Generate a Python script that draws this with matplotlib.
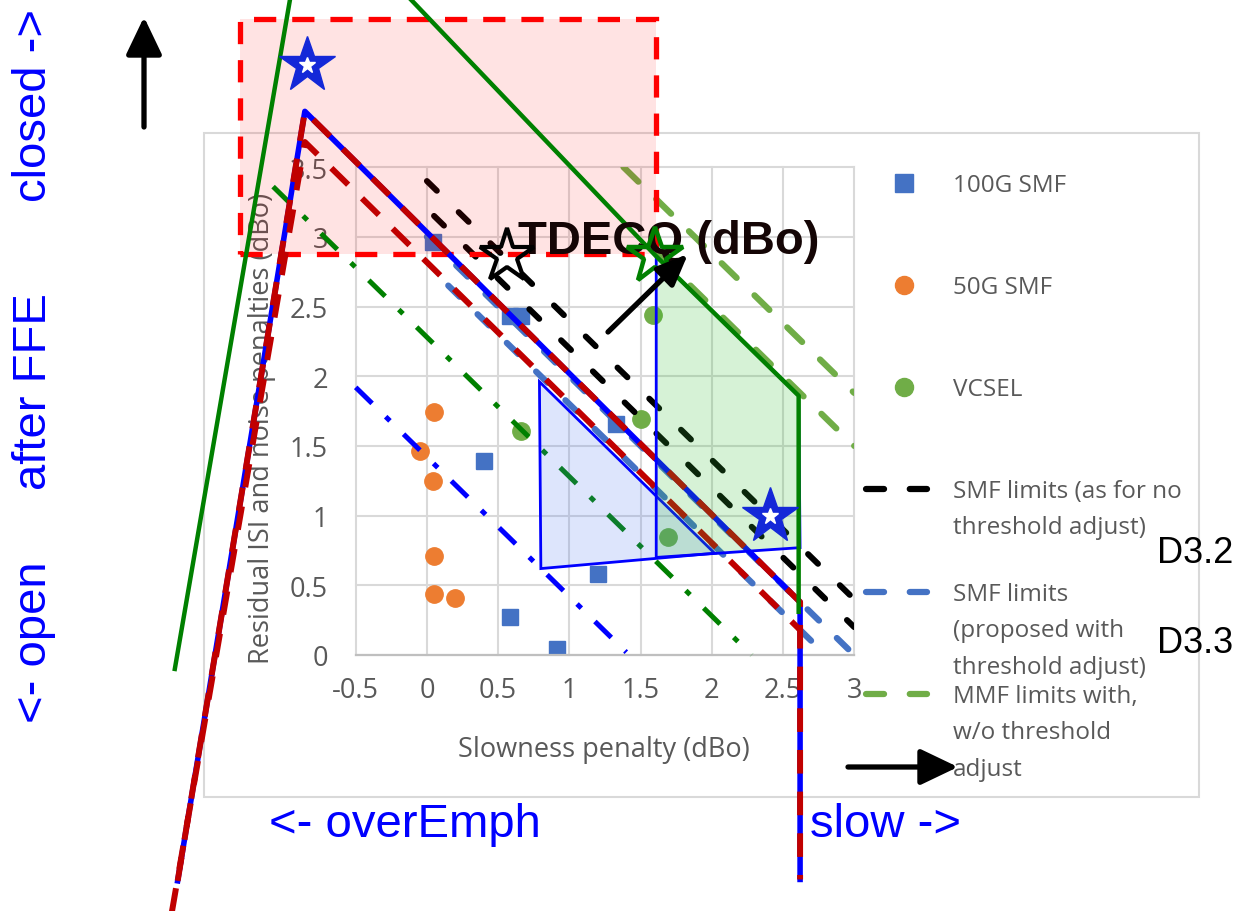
import numpy as np
import matplotlib
matplotlib.use("Agg")
import matplotlib.pyplot as plt
import matplotlib.transforms as mtransforms
from matplotlib.lines import Line2D
from matplotlib.patches import Rectangle, Polygon, FancyArrowPatch

plt.rcParams['lines.scale_dashes'] = False
plt.rcParams['font.family'] = ['Open Sans', 'DejaVu Sans']

# =========================
# data
# =========================
tick_x = [-0.5, 0, 0.5, 1, 1.5, 2, 2.5, 3]
tick_x_labels = ["-0.5", "0", "0.5", "1", "1.5", "2", "2.5", "3"]
tick_y = [0, 0.5, 1, 1.5, 2, 2.5, 3, 3.5]
tick_y_labels = ["0", "0.5", "1", "1.5", "2", "2.5", "3", "3.5"]

# measured points
smf100_x = [0.04, 0.58, 0.66, 0.40, 1.33, 1.20, 0.58, 0.91]
smf100_y = [2.96, 2.43, 2.43, 1.39, 1.66, 0.58, 0.27, 0.04]
smf50_x = [0.05, -0.05, 0.04, 0.05, 0.05, 0.20]
smf50_y = [1.74, 1.46, 1.25, 0.71, 0.44, 0.41]
vcsel_x = [0.66, 1.59, 1.50, 1.69]
vcsel_y = [1.61, 2.44, 1.69, 0.85]

# limit lines of the spreadsheet chart
smf_lim_a_x = [0.0, 3.0]
smf_lim_a_y = [3.4, 0.4]
smf_lim_b_x = [0.05, 3.0]
smf_lim_b_y = [3.15, 0.2]
prop_lim_a_x = [0.0, 3.0]
prop_lim_a_y = [3.0, 0.0]
prop_lim_b_x = [0.15, 2.8]
prop_lim_b_y = [2.65, 0.0]
mmf_lim_a_x = [1.38, 3.0]
mmf_lim_a_y = [3.5, 1.88]
mmf_lim_b_x = [1.62, 3.0]
mmf_lim_b_y = [2.88, 1.5]

# hand drawn overlay
redblue_x = [-1.75, -0.857, 2.62, 2.62]
redblue_y = [-1.62, 3.90, 0.38, -1.61]
red2_x = [-1.79, -0.857, 2.62]
red2_y = [-1.84, 3.68, 0.18]
green_left_x = [-1.77, -0.96]
green_left_y = [-0.10, 4.71]
green_right_x = [-0.12, 1.61, 2.61, 2.61]
green_right_y = [4.71, 2.86, 1.86, 0.31]
dashdot_green_x = [-1.08, 2.28]
dashdot_green_y = [3.36, 0.0]
dashdot_blue_x = [-0.5, 1.40]
dashdot_blue_y = [1.92, 0.02]
blue_area_x = [0.79, 0.80, 2.02]
blue_area_y = [1.96, 0.62, 0.73]
green_area_x = [1.61, 2.61, 2.62, 1.61]
green_area_y = [2.86, 1.86, 0.77, 0.70]
pink_box_x = [-1.31, 1.61]
pink_box_y = [2.88, 4.56]
blue_star_x = [-0.84, 2.41]
blue_star_y = [4.23, 1.00]
black_star_x = [0.56]
black_star_y = [2.86]
green_star_x = [1.60]
green_star_y = [2.86]

legend_labels = ["100G SMF", "50G SMF", "VCSEL",
                 "SMF limits (as for no\nthreshold adjust)",
                 "SMF limits\n(proposed with\nthreshold adjust)",
                 "MMF limits with,\nw/o threshold\nadjust"]

# =========================
# figure / axes
# =========================
W, H = 1237, 912
fig = plt.figure(figsize=(W / 100, H / 100), dpi=100)
fig.patch.set_facecolor('white')
# pixel coords (origin top-left) for the annotations
PX = mtransforms.Affine2D().scale(1.0 / W, -1.0 / H).translate(0, 1) + fig.transFigure

ax = fig.add_axes([355.7 / W, (H - 656) / H, 498.5 / W, 487.9 / H])
ax.set_facecolor('none')
ax.set_xlim(-0.5, 3)
ax.set_ylim(0, 3.5)
for s in ['left', 'right', 'top']:
    ax.spines[s].set_visible(False)
ax.spines['bottom'].set_color('#BFBFBF')
ax.spines['bottom'].set_linewidth(1.6)
ax.set_xticks(tick_x)
ax.set_xticklabels(tick_x_labels)
ax.set_yticks(tick_y)
ax.set_yticklabels(tick_y_labels)
ax.set_axisbelow(True)
ax.grid(True, color='#D9D9D9', lw=1.5)
for gl in ax.get_xgridlines() + ax.get_ygridlines():
    gl.set_clip_on(False)
ax.tick_params(length=0, labelsize=19.5, labelcolor='#595959')
ax.tick_params(axis='x', pad=15)
ax.tick_params(axis='y', pad=20)
ax.set_xlabel("Slowness penalty (dBo)", fontsize=19.5, color='#595959')
ax.xaxis.set_label_coords(0.498, -0.193)
ax.xaxis.label.set_va('center')
ax.set_ylabel("Residual ISI and noise penalties (dBo)", fontsize=19.5, color='#595959')
ax.yaxis.set_label_coords(-0.188, 0.467)
ax.yaxis.label.set_va('center')

# outer chart border
fig.add_artist(Rectangle((204, 134), 995, 664, transform=PX, fill=False,
                         ec='#D9D9D9', lw=1.5, zorder=-1))

# scatter series
ax.plot(smf100_x, smf100_y, ls='none', marker='s', ms=12, color='#4472C4', zorder=2)
ax.plot(smf50_x, smf50_y, ls='none', marker='o', ms=12.5, color='#ED7D31', zorder=2)
ax.plot(vcsel_x, vcsel_y, ls='none', marker='o', ms=12.5, color='#70AD47', zorder=2)

# limit lines (clipped to plot area like the spreadsheet)
for lx, ly in [(smf_lim_a_x, smf_lim_a_y), (smf_lim_b_x, smf_lim_b_y)]:
    ax.plot(lx, ly, color='black', lw=4.3, dashes=(10, 22), dash_capstyle='round', zorder=2.2)
for lx, ly in [(prop_lim_a_x, prop_lim_a_y), (prop_lim_b_x, prop_lim_b_y)]:
    ax.plot(lx, ly, color='#4472C4', lw=4.5, dashes=(11.5, 18), dash_capstyle='round', zorder=2.2)
for lx, ly in [(mmf_lim_a_x, mmf_lim_a_y), (mmf_lim_b_x, mmf_lim_b_y)]:
    ax.plot(lx, ly, color='#70AD47', lw=4.5, dashes=(15, 18), dash_capstyle='round', zorder=2.2)

# pink region
ax.add_patch(Rectangle((pink_box_x[0], pink_box_y[0]), pink_box_x[1] - pink_box_x[0],
                       pink_box_y[1] - pink_box_y[0], fc=(1, 0, 0, 0.11), ec='none',
                       clip_on=False, zorder=3.5))
ax.add_patch(Rectangle((pink_box_x[0], pink_box_y[0]), pink_box_x[1] - pink_box_x[0],
                       pink_box_y[1] - pink_box_y[0], fill=False, ec='#FF0000', lw=3.8,
                       ls=(0, (16, 11.5)), clip_on=False, zorder=3.6))

# dash-dot lines
ax.plot(dashdot_green_x, dashdot_green_y, color='#008000', lw=3.6,
        dashes=(16.5, 13.7, 4.3, 13.7), clip_on=False, zorder=4)
ax.plot(dashdot_blue_x, dashdot_blue_y, color='#0000FF', lw=3.6,
        dashes=(16.5, 13.7, 4.3, 13.7), clip_on=False, zorder=4)

# red / blue boundary lines
ax.plot(redblue_x, redblue_y, color='#0000FF', lw=4.0, clip_on=False, zorder=4)
ax.plot(redblue_x, redblue_y, color='#C00000', lw=4.3, dashes=(17, 13),
        clip_on=False, zorder=4.1)
ax.plot(red2_x, red2_y, color='#C00000', lw=4.3, dashes=(17, 14),
        clip_on=False, zorder=4.1)

# shaded regions
ax.add_patch(Polygon(np.column_stack([blue_area_x, blue_area_y]), closed=True,
                     fc=(0.27, 0.45, 0.95, 0.18), ec='#0000FF', lw=2, zorder=5))
ax.add_patch(Polygon(np.column_stack([green_area_x, green_area_y]), closed=True,
                     fc=(0.2, 0.75, 0.2, 0.2), ec='#0000FF', lw=2, zorder=5))

# green solid lines
ax.plot(green_left_x, green_left_y, color='#008000', lw=3.2, clip_on=False, zorder=5.5)
ax.plot(green_right_x, green_right_y, color='#008000', lw=3.2, clip_on=False, zorder=5.5)

# big label sits under the stars
ax.text(669, 254, "TDECQ (dBo)", transform=PX, fontsize=34, fontweight='bold',
        family=['Liberation Sans', 'DejaVu Sans'], color='#140505',
        ha='center', va='baseline', clip_on=False, zorder=5.8)

# stars
ax.plot(blue_star_x, blue_star_y, ls='none', marker='*', ms=42, color='#1428D8',
        clip_on=False, zorder=6)
ax.plot(blue_star_x, blue_star_y, ls='none', marker='*', ms=12, color='white',
        clip_on=False, zorder=6.1)
ax.plot(black_star_x, black_star_y, ls='none', marker='*', ms=41, mfc='none',
        mec='black', mew=3, clip_on=False, zorder=6)
ax.plot(green_star_x, green_star_y, ls='none', marker='*', ms=42, mfc='none',
        mec='#008000', mew=3.2, clip_on=False, zorder=6)

# =========================
# legend (drawn by hand, spreadsheet style)
# =========================
leg_rows = [184, 286, 388, 490, 593, 695]
fig.add_artist(Line2D([904], [leg_rows[0]], transform=PX, ls='none', marker='s', ms=12.5, color='#4472C4'))
fig.add_artist(Line2D([904], [leg_rows[1]], transform=PX, ls='none', marker='o', ms=13, color='#ED7D31'))
fig.add_artist(Line2D([904], [leg_rows[2]], transform=PX, ls='none', marker='o', ms=13, color='#70AD47'))
for row, col in zip(leg_rows[3:], ['black', '#4472C4', '#70AD47']):
    fig.add_artist(Line2D([866, 927], [row, row], transform=PX, color=col, lw=4.5,
                          dashes=(13, 18.5), dash_capstyle='round'))
for row, lab in zip(leg_rows, legend_labels):
    for i, line in enumerate(lab.split('\n')):
        fig.text(953, row + 2 + i * 36.5, line, transform=PX, fontsize=17.5,
                 color='#595959', ha='left', va='center')

# =========================
# annotations
# =========================
arial = ['Liberation Sans', 'DejaVu Sans']
fig.text(405, 837, "<- overEmph", transform=PX, fontsize=34, family=arial,
         color='#0000FF', ha='center', va='baseline')
fig.text(885, 837, "slow ->", transform=PX, fontsize=34, family=arial,
         color='#0000FF', ha='center', va='baseline')
fig.text(34, 105, "closed ->", transform=PX, fontsize=34, family=arial,
         color='#0000FF', ha='center', va='center', rotation=90)
fig.text(34, 392, "after FFE", transform=PX, fontsize=34, family=arial,
         color='#0000FF', ha='center', va='center', rotation=90)
fig.text(34, 642, "<- open", transform=PX, fontsize=34, family=arial,
         color='#0000FF', ha='center', va='center', rotation=90)
fig.text(1157, 563, "D3.2", transform=PX, fontsize=26, family=arial,
         color='black', ha='left', va='baseline')
fig.text(1157, 653, "D3.3", transform=PX, fontsize=26, family=arial,
         color='black', ha='left', va='baseline')

fig.add_artist(FancyArrowPatch((608, 333), (688, 255), transform=PX,
                               arrowstyle='-|>,head_length=1.9,head_width=0.8',
                               mutation_scale=10, lw=3.8, color='black',
                               shrinkA=0, shrinkB=0))
fig.add_artist(FancyArrowPatch((144, 128), (144, 18), transform=PX,
                               arrowstyle='-|>,head_length=2.3,head_width=1.1',
                               mutation_scale=10, lw=3.8, color='black',
                               shrinkA=0, shrinkB=0))
fig.add_artist(FancyArrowPatch((848, 768), (958, 768), transform=PX,
                               arrowstyle='-|>,head_length=2.3,head_width=1.1',
                               mutation_scale=10, lw=3.8, color='black',
                               shrinkA=0, shrinkB=0))

fig.savefig("out.png", dpi=100)
